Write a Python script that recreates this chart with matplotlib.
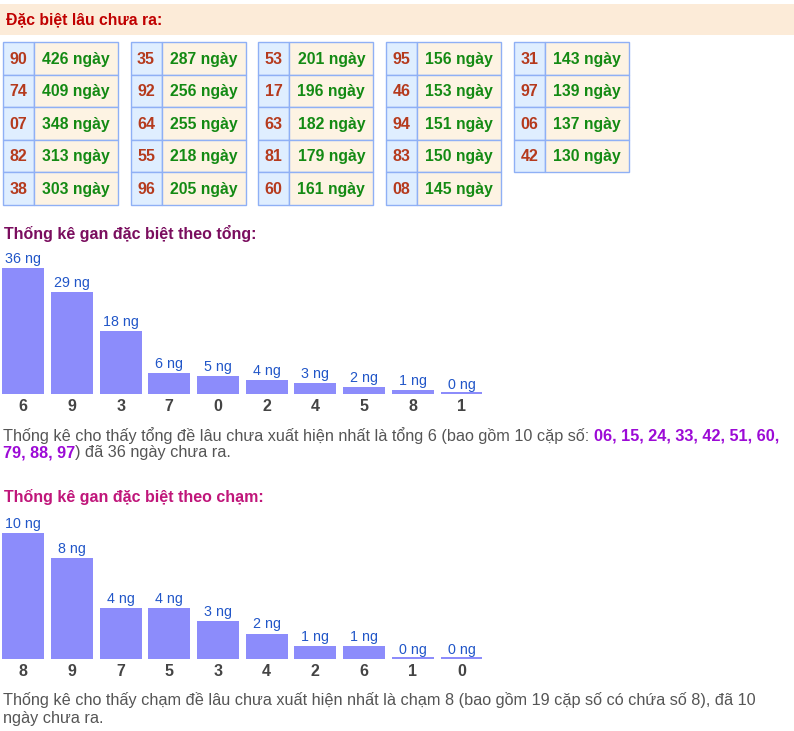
import numpy as np
import matplotlib.pyplot as plt

plt.rcParams['font.family'] = ['Liberation Sans', 'DejaVu Sans']

W, H = 794, 731

# "Dac biet lau chua ra" tables: one list per column block
gan_nums = [["90", "74", "07", "82", "38"],
            ["35", "92", "64", "55", "96"],
            ["53", "17", "63", "81", "60"],
            ["95", "46", "94", "83", "08"],
            ["31", "97", "06", "42"]]
gan_days = [[426, 409, 348, 313, 303],
            [287, 256, 255, 218, 205],
            [201, 196, 182, 179, 161],
            [156, 153, 151, 150, 145],
            [143, 139, 137, 130]]

# gan by sum (tong)
tong_labels = ["6", "9", "3", "7", "0", "2", "4", "5", "8", "1"]
tong_days = [36, 29, 18, 6, 5, 4, 3, 2, 1, 0]
tong_pairs = ["06", "15", "24", "33", "42", "51", "60", "79", "88", "97"]

# gan by digit (cham)
cham_labels = ["8", "9", "7", "5", "3", "4", "2", "6", "1", "0"]
cham_days = [10, 8, 4, 4, 3, 2, 1, 1, 0, 0]
cham_pair_count = 19

fig = plt.figure(figsize=(W / 100, H / 100), dpi=100)
ax = fig.add_axes([0, 0, 1, 1])
ax.set_xlim(0, W)
ax.set_ylim(H, 0)
ax.axis('off')
renderer = fig.canvas.get_renderer()

GRAY = '#444444'
TEXT = '#555555'
PURPLE = '#9c0ad6'
BLUE = '#2156c8'
BAR = '#8c8cfb'
PARA = 11.7

# header band
ax.add_patch(plt.Rectangle((0, 4), W, 30.5, color='#fcebd8', lw=0))
ax.text(6, 19.5, "Đặc biệt lâu chưa ra:", color='#c00000', fontsize=11.3,
        fontweight='bold', va='center', ha='left')

# tables
border = '#8fb0f5'
row_h = 32.5
top = 42.3
num_w, val_w = 31, 84
for c, (nums, days) in enumerate(zip(gan_nums, gan_days)):
    left = 2.7 + 127.8 * c
    for r, (n, d) in enumerate(zip(nums, days)):
        y = top + r * row_h
        ax.add_patch(plt.Rectangle((left, y), num_w, row_h, facecolor='#dfeeff',
                                   edgecolor=border, lw=1))
        ax.add_patch(plt.Rectangle((left + num_w, y), val_w, row_h, facecolor='#fdf3e3',
                                   edgecolor=border, lw=1))
        ax.text(left + num_w / 2, y + row_h / 2 + 0.5, n, color='#b53a1d', fontsize=11.5,
                fontweight='bold', ha='center', va='center')
        ax.text(left + num_w + val_w / 2, y + row_h / 2 + 0.5, f"{d} ngày", color='#138a13',
                fontsize=11.3, fontweight='bold', ha='center', va='center')


def text_width(s, size, weight='normal'):
    t = ax.text(0, 0, s, fontsize=size, fontweight=weight)
    w = t.get_window_extent(renderer).width
    t.remove()
    return w


def rich_line(x, y, parts, size=PARA):
    for s, color, weight in parts:
        if s == " ":
            x += text_width("a a", size) - text_width("aa", size)
            continue
        t = ax.text(x, y, s, color=color, fontsize=size, fontweight=weight,
                    ha='left', va='center')
        x += t.get_window_extent(renderer).width


def bar_chart(base_px, labels, vals):
    scale = 126 / max(vals)
    h_px = 140
    right = 490
    pitch, x0 = 48.7, 23.2
    bax = fig.add_axes([0, (H - base_px) / H, right / W, h_px / H])
    bax.set_xlim(-x0 / pitch, (right - x0) / pitch)
    bax.set_ylim(0, h_px / scale)
    bax.axis('off')
    x = np.arange(len(vals))
    bax.bar(x, np.maximum(vals, 2 / scale), width=42 / pitch, color=BAR, lw=0)
    for i, (lab, v) in enumerate(zip(labels, vals)):
        bax.annotate(f"{v} ng", (i, v), xytext=(0, 1.5), textcoords='offset points',
                     ha='center', va='bottom', color=BLUE, fontsize=10.3,
                     annotation_clip=False)
        bax.annotate(lab, (i, 0), xytext=(0, -4), textcoords='offset points',
                     ha='center', va='top', color=GRAY, fontsize=11.5,
                     fontweight='bold', annotation_clip=False)


# chart 1: by sum
ax.text(4, 234, "Thống kê gan đặc biệt theo tổng:", color='#7a0d5e', fontsize=11.5,
        fontweight='bold', ha='left', va='center')
bar_chart(393.7, tong_labels, tong_days)

rich_line(3, 436, [
    (f"Thống kê cho thấy tổng đề lâu chưa xuất hiện nhất là tổng {tong_labels[0]} "
     f"(bao gồm {len(tong_pairs)} cặp số:", TEXT, 'normal'),
    (" ", None, None),
    (", ".join(tong_pairs[:7]) + ",", PURPLE, 'bold'),
])
rich_line(3, 453, [
    (", ".join(tong_pairs[7:]), PURPLE, 'bold'),
    (f") đã {tong_days[0]} ngày chưa ra.", TEXT, 'normal'),
])

# chart 2: by digit
ax.text(4, 497, "Thống kê gan đặc biệt theo chạm:", color='#c0167a', fontsize=11.5,
        fontweight='bold', ha='left', va='center')
bar_chart(658.7, cham_labels, cham_days)

ax.text(3, 700, f"Thống kê cho thấy chạm đề lâu chưa xuất hiện nhất là chạm {cham_labels[0]} "
        f"(bao gồm {cham_pair_count} cặp số có chứa số {cham_labels[0]}), đã {cham_days[0]}",
        color=TEXT, fontsize=PARA, ha='left', va='center')
ax.text(3, 718, "ngày chưa ra.", color=TEXT, fontsize=PARA, ha='left', va='center')

fig.savefig("out.png", dpi=100)
